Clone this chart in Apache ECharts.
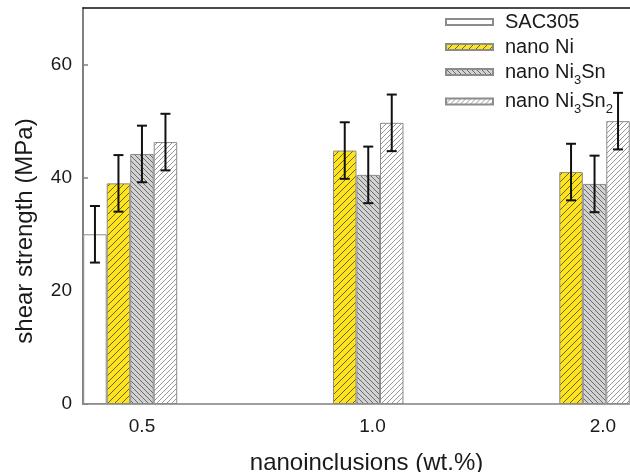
<!DOCTYPE html>
<html>
<head>
<meta charset="utf-8">
<script src="https://cdn.jsdelivr.net/npm/echarts@6/dist/echarts.min.js"></script>
<style>
    html, body { margin: 0; padding: 0; background: #fff; }
    #chart { width: 630px; height: 472px; }
</style>
</head>
<body>
<div id="chart"></div>
<script>
// Data
const categories = ['0.5', '1.0', '2.0'];
const sac305 = [30, null, null];
const nanoNi = [39, 44.8, 41];
const nanoNi3Sn = [44.2, 40.5, 38.9];
const nanoNi3Sn2 = [46.3, 49.7, 50];
const sac305Err = [5, null, null];
const nanoNiErr = [5, 5, 5];
const nanoNi3SnErr = [5, 5, 5];
const nanoNi3Sn2Err = [5, 5, 5];
const yTicks = [0, 20, 40, 60];

const FONT = 'Liberation Sans, Arial, sans-serif';
const BAR_W = 23.5;

// Build a hatch pattern tile
function hatch(bg, lineColor, size, dir, lw) {
    const c = document.createElement('canvas');
    c.width = size;
    c.height = size;
    const ctx = c.getContext('2d');
    ctx.fillStyle = bg;
    ctx.fillRect(0, 0, size, size);
    if (dir) {
        ctx.strokeStyle = lineColor;
        ctx.lineWidth = lw;
        ctx.beginPath();
        [-size, 0, size].forEach(k => {
            if (dir === '/') {
                ctx.moveTo(k, size);
                ctx.lineTo(k + size, 0);
            } else {
                ctx.moveTo(k, 0);
                ctx.lineTo(k + size, size);
            }
        });
        ctx.stroke();
    }
    return { image: c, repeat: 'repeat' };
}

const seriesDefs = [
    { name: 'SAC305', values: sac305, errs: sac305Err, fill: hatch('#ffffff', '#000', 4, null, 1) },
    { name: 'nano Ni', values: nanoNi, errs: nanoNiErr, fill: hatch('#ffe31b', '#555536', 7, '/', 0.9) },
    { name: 'nano Ni3Sn', values: nanoNi3Sn, errs: nanoNi3SnErr, fill: hatch('#d2d2d2', '#5c5c5c', 5, '\\', 0.9) },
    { name: 'nano Ni3Sn2', values: nanoNi3Sn2, errs: nanoNi3Sn2Err, fill: hatch('#ffffff', '#8a8a8a', 5, '/', 0.9) }
];

const legendLabels = {
    'SAC305': 'SAC305',
    'nano Ni': 'nano Ni',
    'nano Ni3Sn': 'nano Ni{sub|3}Sn',
    'nano Ni3Sn2': 'nano Ni{sub|3}Sn{sub|2}'
};

const barSeries = seriesDefs.map(def => ({
    name: def.name,
    type: 'bar',
    xAxisIndex: 1,
    barWidth: BAR_W,
    barGap: '0%',
    itemStyle: { color: def.fill, borderColor: '#8c8c8c', borderWidth: 1 },
    data: def.values.map((v, i) => [i + 1, v == null ? '-' : v])
}));

// error bars: [x, low, high, seriesIndex]
const errData = [];
seriesDefs.forEach((def, s) => {
    def.values.forEach((v, i) => {
        if (v == null) return;
        errData.push([i + 1, v - def.errs[i], v + def.errs[i], s]);
    });
});

const errSeries = {
    name: 'err',
    type: 'custom',
    xAxisIndex: 1,
    z: 10,
    encode: { x: 0, y: [1, 2] },
    data: errData,
    renderItem: (params, api) => {
        const off = (api.value(3) - 1.5) * BAR_W;
        const top = api.coord([api.value(0), api.value(2)]);
        const bot = api.coord([api.value(0), api.value(1)]);
        const x = top[0] + off;
        const style = { stroke: '#111', lineWidth: 2 };
        return {
            type: 'group',
            children: [
                { type: 'line', shape: { x1: x, y1: top[1], x2: x, y2: bot[1] }, style },
                { type: 'line', shape: { x1: x - 5, y1: top[1], x2: x + 5, y2: top[1] }, style },
                { type: 'line', shape: { x1: x - 5, y1: bot[1], x2: x + 5, y2: bot[1] }, style }
            ]
        };
    }
};

const chart = echarts.init(document.getElementById('chart'));
chart.setOption({
    animation: false,
    textStyle: { fontFamily: FONT },
    grid: { left: 83, top: 8, bottom: 68, right: -20, outerBoundsMode: 'none', containLabel: false },
    legend: {
        orient: 'vertical',
        left: 440,
        top: 7,
        itemGap: 5,
        itemWidth: 47,
        itemHeight: 6,
        icon: 'rect',
        data: seriesDefs.map(d => d.name),
        formatter: name => legendLabels[name],
        textStyle: {
            fontFamily: FONT,
            fontSize: 20,
            color: '#1a1a1a',
            padding: [0, 0, 0, 7],
            rich: {
                sub: { fontSize: 13, fontFamily: FONT, color: '#1a1a1a', verticalAlign: 'bottom', padding: [16, 0, 0, 0] }
            }
        }
    },
    xAxis: [
        {
            // visible axis carrying the labels and the title
            type: 'value',
            min: 0.744,
            max: 3.204,
            name: 'nanoinclusions (wt.%)',
            nameLocation: 'middle',
            nameGap: 47,
            nameTextStyle: { fontFamily: FONT, fontSize: 24, color: '#1a1a1a' },
            axisLine: { show: true, lineStyle: { color: '#808080', width: 1.5 } },
            axisTick: { show: false },
            splitLine: { show: false },
            axisLabel: {
                customValues: [1, 2, 3],
                formatter: v => categories[Math.round(v) - 1],
                fontFamily: FONT,
                fontSize: 19,
                color: '#1a1a1a',
                margin: 13
            }
        },
        {
            // hidden axis that places the bars
            type: 'value',
            min: 0.7914,
            max: 3.297,
            show: false
        },
        {
            // top frame line
            type: 'value',
            position: 'top',
            min: 0,
            max: 1,
            axisLine: { show: true, onZero: false, lineStyle: { color: '#111', width: 1.5 } },
            axisTick: { show: false },
            axisLabel: { show: false },
            splitLine: { show: false }
        }
    ],
    yAxis: {
        type: 'value',
        min: 0,
        max: 70,
        interval: 20,
        name: 'shear strength (MPa)',
        nameLocation: 'middle',
        nameGap: 46,
        nameTextStyle: { fontFamily: FONT, fontSize: 24, color: '#1a1a1a', padding: [0, 50, 0, 0] },
        axisLine: { show: true, lineStyle: { color: '#808080', width: 2 } },
        axisTick: { show: true, inside: true, length: 5, lineStyle: { color: '#808080', width: 1.5 }, customValues: yTicks },
        splitLine: { show: false },
        axisLabel: {
            customValues: yTicks,
            fontFamily: FONT,
            fontSize: 19,
            color: '#1a1a1a',
            margin: 11
        }
    },
    series: [...barSeries, errSeries]
});
</script>
</body>
</html>
